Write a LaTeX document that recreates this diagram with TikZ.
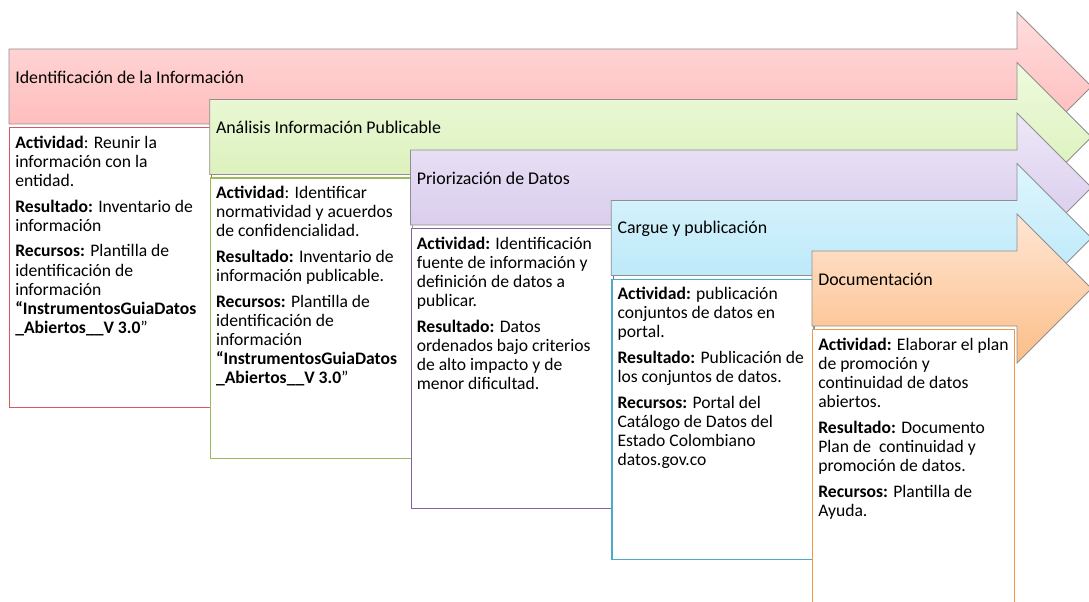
\documentclass[tikz,border=0pt]{standalone}
\usepackage{fontspec}
\setmainfont{Carlito}
\usetikzlibrary{positioning}

\definecolor{edge}{HTML}{8F8F8F}
\definecolor{toprd}{HTML}{FFDDDD}\definecolor{botrd}{HTML}{FFB3B3}\definecolor{linerd}{HTML}{D9595B}
\definecolor{topgn}{HTML}{EFFADF}\definecolor{botgn}{HTML}{D6EFB2}\definecolor{linegn}{HTML}{9BBB59}
\definecolor{toppu}{HTML}{EEE8F8}\definecolor{botpu}{HTML}{D3C4E9}\definecolor{linepu}{HTML}{8064A2}
\definecolor{topbl}{HTML}{DEF6FD}\definecolor{botbl}{HTML}{B3E5F8}\definecolor{linebl}{HTML}{4BACC6}
\definecolor{topor}{HTML}{FFE6D4}\definecolor{botor}{HTML}{FBBE88}\definecolor{lineor}{HTML}{F79646}

\begin{document}
\begin{tikzpicture}
  [x=0.75pt, y=0.75pt,
   stage/.style={draw=edge, line width=0.6pt, line join=miter},
   card/.style={draw, line width=1pt, fill=white, anchor=north west, inner sep=0pt,
     minimum width=151.5pt, minimum height=210pt},
   head/.style={anchor=west, inner sep=0pt, font=\fontsize{13.4}{15}\selectfont},
   info/.style={anchor=north west, inner sep=0pt, align=left, font=\fontsize{13.2}{14.3}\selectfont}]
 \useasboundingbox (0,0) rectangle (1089,601);
 % arrows, each with its card
 \foreach \i/\c/\lab in {0/rd/{Identificación de la Información}, 1/gn/{Análisis Información Publicable},
   2/pu/{Priorización de Datos}, 3/bl/{Cargue y publicación}, 4/or/{Documentación}} {
   \pgfmathsetmacro\L{9+200.75*\i}
   \pgfmathsetmacro\T{552-50.5*\i}
   \pgfmathsetmacro\B{\T-75}
   \pgfmathsetmacro\M{\T-37.5}
   \path[stage, top color=top\c, bottom color=bot\c]
     (\L,\T) -- (1017,\T) -- (1017,\T+37) -- (1091.5,\M) -- (1017,\B-37) -- (1017,\B) -- (\L,\B) -- cycle;
   \coordinate (a\i) at (\L,\M);
   \node (h\i) [head, right=4.5pt of a\i, yshift=7pt] {\lab};
   \node (b\i) [card, draw=line\c] at (\L,\B-3) {};
 }
 \node (t0) [info, below right=6.5pt and 4.5pt of b0.north west] {%
   \textbf{Actividad}: Reunir la\\ información con la\\ entidad.\\[5pt]
   \textbf{Resultado:} Inventario de\\ información\\[5pt]
   \textbf{Recursos:} Plantilla de\\ identificación de\\ información\\
   \textbf{“InstrumentosGuiaDatos}\\ \textbf{\_Abiertos\_\_V 3.0}”};
 \node (t1) [info, below right=6.5pt and 4.5pt of b1.north west] {%
   \textbf{Actividad}: Identificar\\ normatividad y acuerdos\\ de confidencialidad.\\[5pt]
   \textbf{Resultado:} Inventario de\\ información publicable.\\[5pt]
   \textbf{Recursos:} Plantilla de\\ identificación de\\ información\\
   \textbf{“InstrumentosGuiaDatos}\\ \textbf{\_Abiertos\_\_V 3.0}”};
 \node (t2) [info, below right=6.5pt and 4.5pt of b2.north west] {%
   \textbf{Actividad:} Identificación\\ fuente de información y\\ definición de datos a\\ publicar.\\[5pt]
   \textbf{Resultado:} Datos\\ ordenados bajo criterios\\ de alto impacto y de\\ menor dificultad.};
 \node (t3) [info, below right=6.5pt and 4.5pt of b3.north west] {%
   \textbf{Actividad:} publicación\\ conjuntos de datos en\\ portal.\\[5pt]
   \textbf{Resultado:} Publicación de\\ los conjuntos de datos.\\[5pt]
   \textbf{Recursos:} Portal del\\ Catálogo de Datos del\\ Estado Colombiano\\ datos.gov.co};
 \node (t4) [info, below right=6.5pt and 4.5pt of b4.north west] {%
   \textbf{Actividad:} Elaborar el plan\\ de promoción y\\ continuidad de datos\\ abiertos.\\[5pt]
   \textbf{Resultado:} Documento\\ Plan de\ \ continuidad y\\ promoción de datos.\\[5pt]
   \textbf{Recursos:} Plantilla de\\ Ayuda.};
\end{tikzpicture}
\end{document}
